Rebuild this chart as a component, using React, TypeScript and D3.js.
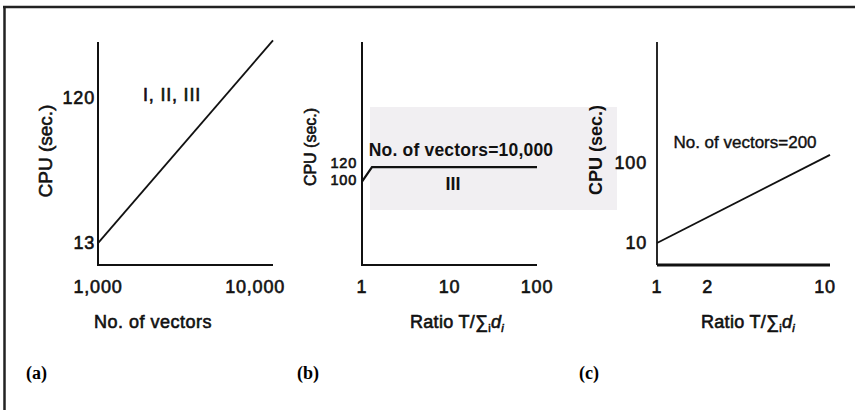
import React from 'react';
import * as d3 from 'd3';

// panel (a): CPU vs number of vectors
const aX = [1000, 13000];
const aY = [13, 290];
const aXTicks = [1000, 10000];
const aXTickLabels = ['1,000', '10,000'];
const aYTicks = [13, 120];

// panel (b): CPU vs ratio, 10,000 vectors
const bX = [1, 1.3, 100];
const bY = [98, 115, 115];
const bXTicks = [1, 10, 100];
const bYTicks = [100, 120];

// panel (c): CPU vs ratio, 200 vectors
const cX = [1, 10.7];
const cY = [10, 126];
const cXTicks = [1, 2, 10];
const cYTicks = [10, 100];

const sans = '"Liberation Sans", Arial, sans-serif';
const serif = '"Liberation Serif", "Times New Roman", serif';
const top = 42;
const bottom = 265;

const heavy = { fill: '#111', stroke: '#111', strokeWidth: 0.6 };

function RatioLabel({ x }: { x: number }) {
  return (
    <text x={x} y={328} textAnchor="middle" fontFamily={sans} fontSize={18} letterSpacing={0.3} {...heavy}>
      Ratio T/∑
      <tspan fontSize={11} dy={4}>i</tspan>
      <tspan fontStyle="italic" dy={-4}>d</tspan>
      <tspan fontSize={11} fontStyle="italic" dy={4}>i</tspan>
    </text>
  );
}

export default function App() {
  const xa = d3.scaleLog().domain([1000, 13000]).range([98, 273]);
  const ya = d3.scaleLog().domain([9.3, 283]).range([bottom, top]);
  const xb = d3.scaleLog().domain([1, 100]).range([362, 537]);
  const yb = d3.scaleLinear().domain([0, 262]).range([bottom, top]);
  const xc = d3.scaleLog().domain([1, 10.7]).range([657, 830]);
  const yc = d3.scaleLog().domain([5.3, 3240]).range([bottom, top]);

  const lineA = d3.line<number>().x((d) => xa(d)).y((d, i) => ya(aY[i]));
  const lineB = d3.line<number>().x((d) => xb(d)).y((d, i) => yb(bY[i]));
  const lineC = d3.line<number>().x((d) => xc(d)).y((d, i) => yc(cY[i]));

  const tick = { fontFamily: sans, fontSize: 18, letterSpacing: 0.8, ...heavy };

  return (
    <svg width={855} height={410} style={{ position: 'absolute', left: 0, top: 0, background: '#fff' }}>
      {/* scan shading behind panel (b) annotation */}
      <rect x={370} y={107} width={247} height={103} fill="#f1eff2" />

      {/* frame, top and left only */}
      <line x1={3} y1={7} x2={855} y2={7} stroke="#222" strokeWidth={2.5} />
      <line x1={4.5} y1={6} x2={4.5} y2={410} stroke="#222" strokeWidth={2.5} />

      {/* ----- panel (a) ----- */}
      <path d={`M${xa(aX[0])},${top}V${bottom}H${xa(13000)}`} fill="none" stroke="#111" strokeWidth={2} />
      <path d={lineA(aX) || ''} fill="none" stroke="#111" strokeWidth={1.8} />
      {aYTicks.map((t) => (
        <text key={t} x={95} y={ya(t) + 6} textAnchor="end" {...tick}>{t}</text>
      ))}
      {aXTicks.map((t, i) => (
        <text key={t} x={xa(t)} y={293} textAnchor="middle" {...tick}>{aXTickLabels[i]}</text>
      ))}
      <text x={172} y={101} textAnchor="middle" {...tick}>I, II, III</text>
      <text transform="translate(52,151) rotate(-90)" textAnchor="middle" fontFamily={sans} fontSize={19} {...heavy}>CPU (sec.)</text>
      <text x={153} y={328} textAnchor="middle" fontFamily={sans} fontSize={18} letterSpacing={0.5} {...heavy}>No. of vectors</text>
      <text x={26} y={379} fontFamily={serif} fontSize={18} fontWeight="bold">(a)</text>

      {/* ----- panel (b) ----- */}
      <path d={`M${xb(1)},${top}V${bottom}H${xb(100)}`} fill="none" stroke="#111" strokeWidth={2} />
      <path d={lineB(bX) || ''} fill="none" stroke="#111" strokeWidth={2.2} />
      {bYTicks.map((t) => (
        <text key={t} x={357} y={yb(t) + 5} textAnchor="end" {...tick} fontSize={14.5} letterSpacing={0.8}>{t}</text>
      ))}
      {bXTicks.map((t) => (
        <text key={t} x={xb(t)} y={293} textAnchor="middle" {...tick}>{t}</text>
      ))}
      <text x={461} y={156} textAnchor="middle" fontFamily={sans} fontSize={17.5} fontWeight="bold" letterSpacing={0.2} fill="#111">No. of vectors=10,000</text>
      <text x={453} y={190} textAnchor="middle" fontFamily={sans} fontSize={18} fontWeight="bold" fill="#111">III</text>
      <text transform="translate(316,147) rotate(-90)" textAnchor="middle" fontFamily={sans} fontSize={16} {...heavy}>CPU (sec.)</text>
      <RatioLabel x={457} />
      <text x={297} y={379} fontFamily={serif} fontSize={18} fontWeight="bold">(b)</text>

      {/* ----- panel (c) ----- */}
      <path d={`M${xc(1)},${top}V${bottom}`} fill="none" stroke="#111" strokeWidth={1.8} />
      <path d={`M${xc(1)},${bottom}H${xc(10.7)}`} fill="none" stroke="#111" strokeWidth={3} />
      <path d={lineC(cX) || ''} fill="none" stroke="#111" strokeWidth={1.8} />
      {cYTicks.map((t) => (
        <text key={t} x={647} y={yc(t) + 6} textAnchor="end" {...tick}>{t}</text>
      ))}
      {cXTicks.map((t) => (
        <text key={t} x={xc(t)} y={293} textAnchor="middle" {...tick}>{t}</text>
      ))}
      <text x={745} y={148} textAnchor="middle" fontFamily={sans} fontSize={17} letterSpacing={0} {...heavy} strokeWidth={0.4}>No. of vectors=200</text>
      <text transform="translate(602,150) rotate(-90)" textAnchor="middle" fontFamily={sans} fontSize={18} fontWeight="bold" fill="#111">CPU (sec.)</text>
      <RatioLabel x={748} />
      <text x={579} y={379} fontFamily={serif} fontSize={18} fontWeight="bold">(c)</text>
    </svg>
  );
}
